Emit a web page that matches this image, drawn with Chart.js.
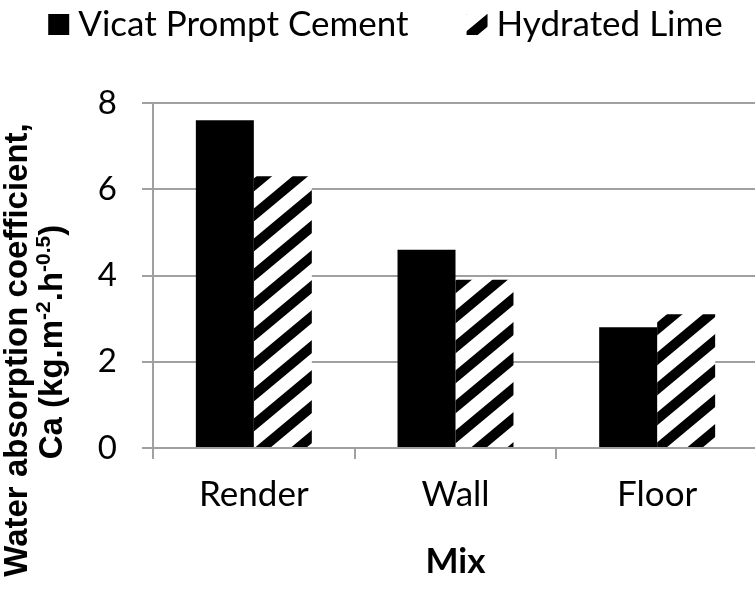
<!DOCTYPE html>
<html>
<head>
<meta charset="utf-8">
<script src="https://cdn.jsdelivr.net/npm/chart.js@4.4.1/dist/chart.umd.min.js"></script>
<style>
  html, body { margin: 0; padding: 0; background: #fff; overflow: hidden; }
  #wrap { position: relative; width: 758px; height: 590px; }
</style>
</head>
<body>
<div id="wrap"><canvas id="c" width="758" height="590"></canvas></div>
<script>
// ---- data ----
const categories = ['Render', 'Wall', 'Floor'];
const seriesNames = ['Vicat Prompt Cement', 'Hydrated Lime'];
const vicatPromptCement = [7.6, 4.6, 2.8];
const hydratedLime = [6.3, 3.9, 3.1];
const yTicks = [0, 2, 4, 6, 8];
const xTitle = 'Mix';
const yTitleLine1 = [['Water absorption coefficient,', false]];
const yTitleLine2 = [['Ca (kg.m', false], ['-2', true], ['.h', false], ['-0.5', true], [')', false]];

// ---- styles ----
const GRID = '#a0a0a0';
const BODY_FONT = 'Lato, "Open Sans", sans-serif';
const TITLE_FONT = '"Liberation Sans", Arial, sans-serif';

// diagonal "/" hatch: black stripes on white
function makeHatch(ctx) {
  const w = 36, h = 30, t = 13;
  const tile = document.createElement('canvas');
  tile.width = w; tile.height = h;
  const g = tile.getContext('2d');
  g.fillStyle = '#fff';
  g.fillRect(0, 0, w, h);
  g.fillStyle = '#000';
  for (let k = -1; k <= 1; k++) {
    g.beginPath();
    g.moveTo(0, h + h * k);
    g.lineTo(w, h * k);
    g.lineTo(w, h * k + t);
    g.lineTo(0, h + h * k + t);
    g.closePath();
    g.fill();
  }
  return ctx.createPattern(tile, 'repeat');
}

const canvas = document.getElementById('c');
const ctx = canvas.getContext('2d');
const hatch = makeHatch(ctx);
const fills = ['#000000', hatch];

// legend across the top, swatch tight against its label
const topLegend = {
  id: 'topLegend',
  afterDraw(chart) {
    const c = chart.ctx;
    const box = 21, gapText = 9, gapItems = 58, centerX = 385.5, boxTop = 14, baseline = 36;
    c.save();
    c.font = '35px ' + BODY_FONT;
    c.textBaseline = 'alphabetic';
    c.textAlign = 'left';
    const widths = seriesNames.map(s => c.measureText(s).width);
    let total = 0;
    widths.forEach((w, i) => { total += box + gapText + w + (i ? gapItems : 0); });
    let x = centerX - total / 2;
    seriesNames.forEach((name, i) => {
      c.fillStyle = fills[i];
      c.fillRect(x, boxTop, box, box);
      c.fillStyle = '#000';
      c.fillText(name, x + box + gapText, baseline);
      x += box + gapText + widths[i] + gapItems;
    });
    c.restore();
  }
};

// two-line rotated value-axis title with superscripts
const yAxisTitle = {
  id: 'yAxisTitle',
  afterDraw(chart) {
    const c = chart.ctx;
    const size = 33, supSize = 21, rise = 12;
    const lines = [
      { parts: yTitleLine1, base: 27, center: 350 },
      { parts: yTitleLine2, base: 62, center: 342 }
    ];
    c.save();
    c.fillStyle = '#000';
    c.textBaseline = 'alphabetic';
    c.textAlign = 'left';
    lines.forEach(line => {
      const fontOf = sup => 'bold ' + (sup ? supSize : size) + 'px ' + TITLE_FONT;
      let total = 0;
      line.parts.forEach(([txt, sup]) => { c.font = fontOf(sup); total += c.measureText(txt).width; });
      c.save();
      c.translate(line.base, line.center);
      c.rotate(-Math.PI / 2);
      let u = -total / 2;
      line.parts.forEach(([txt, sup]) => {
        c.font = fontOf(sup);
        c.fillText(txt, u, sup ? -rise : 0);
        u += c.measureText(txt).width;
      });
      c.restore();
    });
    c.restore();
  }
};

new Chart(ctx, {
  type: 'bar',
  data: {
    labels: categories,
    datasets: [
      { label: seriesNames[0], data: vicatPromptCement, backgroundColor: fills[0], borderWidth: 0 },
      { label: seriesNames[1], data: hydratedLime, backgroundColor: fills[1], borderWidth: 0 }
    ]
  },
  options: {
    responsive: false,
    animation: false,
    devicePixelRatio: 1,
    layout: { padding: { top: 103, right: 0, bottom: 0, left: 0 } },
    datasets: { bar: { categoryPercentage: 0.575, barPercentage: 1.0 } },
    plugins: { legend: { display: false }, tooltip: { enabled: false } },
    scales: {
      x: {
        offset: true,
        grid: { display: true, offset: true, drawOnChartArea: false, tickLength: 11, color: GRID, lineWidth: 2 },
        border: { color: GRID, width: 2 },
        ticks: { color: '#000', font: { family: BODY_FONT, size: 35 }, padding: 15, maxRotation: 0 },
        title: { display: true, text: xTitle, color: '#000', font: { family: BODY_FONT, size: 35, weight: 'bold' }, padding: { top: 0, bottom: 7 } },
        afterFit(s) { s.height = 142; }
      },
      y: {
        min: 0, max: 8,
        afterBuildTicks(s) { s.ticks = yTicks.map(v => ({ value: v })); },
        grid: { color: GRID, lineWidth: 2, tickLength: 11 },
        border: { color: GRID, width: 2 },
        ticks: { color: '#000', font: { family: BODY_FONT, size: 33 }, padding: 25 },
        afterFit(s) { s.width = 153; }
      }
    }
  },
  plugins: [topLegend, yAxisTitle]
});
</script>
</body>
</html>
